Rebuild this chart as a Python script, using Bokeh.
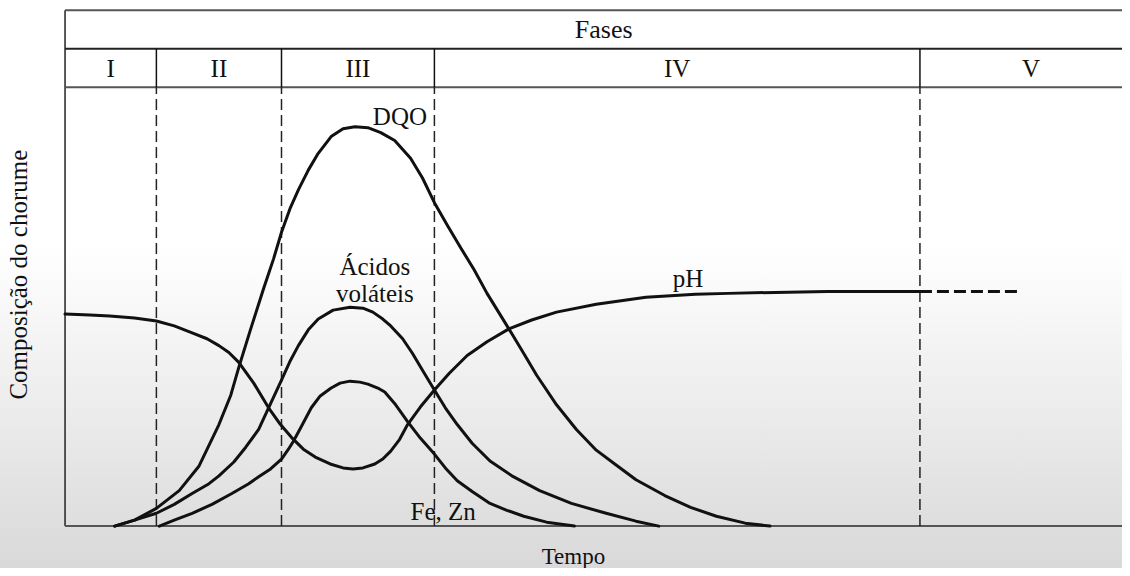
import math
from bokeh.plotting import figure
from bokeh.models import Range1d, Label
from bokeh.embed import file_html
from bokeh.resources import INLINE

# ---- data (arbitrary units: time vs. composition) ----
phase_names = ["I", "II", "III", "IV", "V"]
phase_edges = [0, 92, 218, 372, 861, 1085]

dqo_t = [50, 70, 92, 115, 135, 155, 167, 175, 187, 200, 210, 218, 227, 235, 245, 255, 268,
         280, 292, 305, 318, 332, 348, 360, 372, 385, 398, 412, 425, 447, 462, 475, 495,
         515, 535, 555, 575, 604, 630, 656, 685, 710]
dqo_v = [0, 6, 18, 36, 61, 103, 133, 161, 200, 241, 271, 298, 323, 341, 361, 378, 395,
         403, 405, 404, 399, 391, 373, 353, 328, 305, 283, 260, 236, 200, 175, 153, 123,
         98, 77, 62, 47, 31, 19, 10, 3, 0]

acid_t = [50, 70, 92, 110, 128, 145, 155, 170, 182, 195, 205, 218, 227, 235, 245, 255, 270,
          287, 300, 310, 320, 328, 340, 350, 360, 372, 383, 395, 410, 428, 450, 478, 510,
          545, 575, 598]
acid_v = [0, 6, 13, 22, 33, 43, 51, 65, 80, 98, 120, 148, 168, 183, 199, 210, 219,
          222, 221, 217, 210, 203, 190, 175, 158, 138, 120, 103, 84, 66, 51, 36, 23,
          13, 5, 0]

fezn_t = [95, 110, 128, 148, 168, 185, 195, 207, 218, 225, 230, 238, 248, 257, 268, 277,
          287, 297, 305, 315, 322, 333, 345, 358, 372, 383, 395, 410, 428, 445, 462, 485, 513]
fezn_v = [0, 6, 13, 22, 33, 43, 50, 58, 68, 78, 86, 101, 120, 132, 140, 145,
          147, 146, 144, 140, 136, 123, 106, 89, 73, 59, 46, 35, 23, 16, 10, 4, 0]

ph_t = [0, 25, 45, 70, 92, 110, 128, 143, 155, 165, 175, 190, 205, 217, 228, 240, 252,
        267, 280, 290, 300, 312, 320, 328, 337, 345, 358, 372, 387, 405, 425, 447, 470,
        495, 535, 585, 635, 668, 715, 768, 815, 861]
ph_v = [215, 214, 213, 211, 208, 203, 196, 190, 183, 176, 166, 145, 120, 103, 90, 78, 70,
        63, 59, 58, 59, 63, 68, 76, 88, 103, 121, 138, 155, 173, 187, 200, 209,
        217, 225, 232, 235, 236, 237, 238, 238, 238]

ph_ext_t = [861, 962]
ph_ext_v = [238, 238]

# table / frame levels (same units)
axis_end = 1065
plot_top = 445
row_split = 484
box_top = 523

FONT = "'Liberation Serif', 'Times New Roman', Times, serif"
INK = "#111111"

p = figure(width=1122, height=568, output_backend="svg", toolbar_location=None,
           x_range=Range1d(-65, 1065), y_range=Range1d(-43, 533),
           min_border=0)
p.axis.visible = False
p.grid.visible = False
p.border_fill_color = None
p.background_fill_color = None
p.outline_line_color = None
p.styles = {"background": "linear-gradient(to bottom, #ffffff 0px, #ffffff 246px, #d9d9d9 568px)"}

# frame lines: left border, bottom axis, header rules
p.segment(x0=[0], y0=[0], x1=[0], y1=[box_top], line_color="#222222", line_width=1.5)
p.segment(x0=[0], y0=[0], x1=[axis_end], y1=[0], line_color="#555555", line_width=2)
p.segment(x0=[0, 0], y0=[box_top, plot_top], x1=[axis_end, axis_end], y1=[box_top, plot_top],
          line_color="#555555", line_width=2)
p.segment(x0=[0], y0=[row_split], x1=[axis_end], y1=[row_split], line_color="#222222", line_width=2)

inner = phase_edges[1:-1]
p.segment(x0=inner, y0=[plot_top] * len(inner), x1=inner, y1=[row_split] * len(inner),
          line_color=INK, line_width=1.5)
p.segment(x0=inner, y0=[0] * len(inner), x1=inner, y1=[plot_top] * len(inner),
          line_color="#222222", line_width=1.5, line_dash="11 5")

# curves
for xs, ys in ((dqo_t, dqo_v), (acid_t, acid_v), (fezn_t, fezn_v), (ph_t, ph_v)):
    p.line(xs, ys, line_color=INK, line_width=3, line_join="round", line_cap="round")
p.line(ph_ext_t, ph_ext_v, line_color=INK, line_width=3, line_dash="12 5")


def lab(x, y, t, align="left", baseline="alphabetic", size="25px", angle=0.0):
    p.add_layout(Label(x=x, y=y, text=t, text_font=FONT, text_font_size=size,
                       text_color=INK, text_align=align, text_baseline=baseline,
                       angle=angle))


# header texts
lab((phase_edges[0] + phase_edges[-1]) / 2, (row_split + box_top) / 2, "Fases",
    align="center", baseline="middle", size="26px")
for i, name in enumerate(phase_names):
    cx = (phase_edges[i] + phase_edges[i + 1]) / 2
    lab(cx, (plot_top + row_split) / 2, name, align="center", baseline="middle")

# curve labels
lab(310, 415, "DQO")
lab(312, 263, "Ácidos", align="center")
lab(312, 236, "voláteis", align="center")
lab(348, 15, "Fe, Zn")
lab(612, 251, "pH")

# axis titles
lab(512, -31, "Tempo", align="center", size="23px")
lab(-47, 255, "Composição do chorume", align="center", baseline="middle", angle=math.pi / 2)

open("out.html", "w").write(file_html(p, INLINE))
